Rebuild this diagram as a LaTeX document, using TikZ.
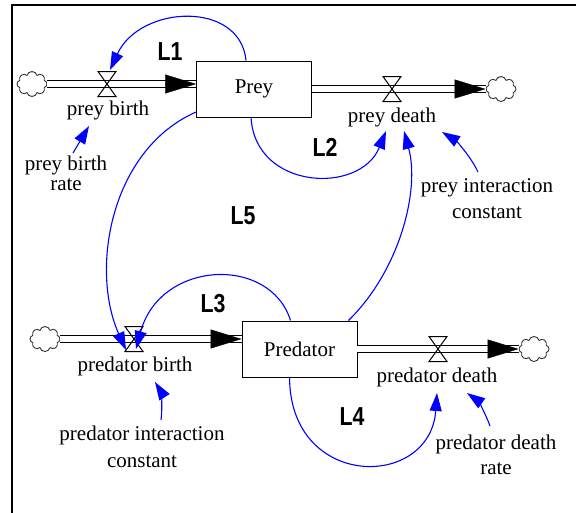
\documentclass[tikz,border=0pt]{standalone}
\usepackage{fontspec}
\setmainfont{Liberation Serif}
\newfontfamily\lfont{Liberation Sans}
\usetikzlibrary{arrows.meta,shapes.symbols,calc}
\begin{document}
\begin{tikzpicture}[x=1pt,y=-1pt,
  stock/.style={draw, line width=0.9pt, minimum width=115pt, minimum height=56pt, inner sep=0pt, font=\fontsize{21}{21}\selectfont},
  lbl/.style={font=\fontsize{21}{25}\selectfont, align=center, inner sep=0pt},
  loopl/.style={font=\lfont\bfseries\fontsize{26}{26}\selectfont, inner sep=0pt},
  pipe/.style={double distance=6pt, line width=1.1pt},
  head/.style={-{Triangle[length=31pt,width=19pt]}, line width=0.4pt},
  valvestyle/.style={line width=1pt},
  link/.style={blue, line width=1.1pt, -{Triangle[length=18pt,width=12pt]}},
  cloudy/.style={cloud, cloud puffs=8, draw=black!80, line width=0.9pt, minimum width=30pt, minimum height=25pt, inner sep=0pt, aspect=1.2},
]
\useasboundingbox (0,0) rectangle (576,512);
\draw[line width=2.3pt] (12,520) -- (12,5) -- (584,5);

% stocks
\node[stock] (prey) at (254,89) {Prey};
\node[stock] (pred) at (299.5,349) {Predator};

% clouds
\node[cloudy] (c1) at (32,84) {};
\node[cloudy] (c2) at (501,89) {};
\node[cloudy] (c3) at (45,339) {};
\node[cloudy] (c4) at (534,349) {};

% flow end points and valves
\coordinate (pbin) at (prey.west |- c1);
\coordinate (pbout) at (prey.east |- c2);
\coordinate (prin) at (pred.west |- c3);
\coordinate (prout) at (pred.east |- c4);
\coordinate (v1) at (107,84);
\coordinate (v2) at (392,89);
\coordinate (v3) at (134,339);
\coordinate (v4) at (438,349);

% pipes
\draw[pipe] (c1.east) -- (pbin);
\draw[head] ($(pbin)+(-31,0)$) -- (pbin);
\draw[pipe] (pbout) -- (c2.west);
\draw[head] ($(c2.west)+(-31,0)$) -- (c2.west);
\draw[pipe] (c3.east) -- (prin);
\draw[head] ($(prin)+(-31,0)$) -- (prin);
\draw[pipe] (prout) -- (c4.west);
\draw[head] ($(c4.west)+(-31,0)$) -- (c4.west);

\foreach \v in {v1,v2,v3,v4}
  \draw[valvestyle] (\v) ++(-9,-12.5) -- ++(18,0) -- ++(-18,25) -- ++(18,0) -- cycle;

% labels
\node[lbl] (pbirth) at (108,110) {prey birth};
\node[lbl] (pdeath) at (392,117) {prey death};
\node[lbl, font=\fontsize{21}{20}\selectfont] (pbr) at (66,173) {prey birth\\rate};
\node[lbl, font=\fontsize{21}{26}\selectfont] (pic) at (487,199) {prey interaction\\constant};
\node[lbl] (prbirth) at (135,366) {predator birth};
\node[lbl, font=\fontsize{21}{27}\selectfont] (pric) at (142,447) {predator interaction\\constant};
\node[lbl] (prdeath) at (437,377) {predator death};
\node[lbl] (prdr) at (496,455) {predator death\\rate};

\node[loopl] (L1) at (170,52) {\scalebox{0.82}[1]{L1}};
\node[loopl] (L2) at (325,147) {\scalebox{0.82}[1]{L2}};
\node[loopl] (L5) at (243,216) {\scalebox{0.82}[1]{L5}};
\node[loopl] (L3) at (213,304) {\scalebox{0.82}[1]{L3}};
\node[loopl] (L4) at (352,417) {\scalebox{0.82}[1]{L4}};

% link end points
\coordinate (l1s) at ([xshift=50pt]prey.north west);
\coordinate (l1t) at (110,70);
\coordinate (l2s) at ([xshift=55pt]prey.south west);
\coordinate (l2t) at (386,131);
\coordinate (l6s) at ([xshift=-9pt]pred.north east);
\coordinate (l6t) at (404,131);
\coordinate (pict) at (478,172);
\coordinate (pitip) at (442,132);
\coordinate (pbrt) at (73,153);
\coordinate (pbrtip) at (89,126);
\coordinate (l5s) at ([yshift=-23pt]prey.west);
\coordinate (l5t) at (126,350);
\coordinate (l3s) at ([xshift=49pt]pred.north west);
\coordinate (l3t) at (136,349);
\coordinate (l4s) at ([xshift=48pt]pred.south west);
\coordinate (l4t) at (437,393);
\coordinate (prict) at (161,420);
\coordinate (prictip) at (155,382);
\coordinate (prdrt) at (490,426);
\coordinate (prdrtip) at (467,393);

% links
\draw[link] (l1s) .. controls (240,0) and (140,5) .. (l1t);
\draw[link] (l2s) .. controls (255,190) and (360,195) .. (l2t);
\draw[link] (l6s) .. controls (400,270) and (420,190) .. (l6t);
\draw[link] (pict) .. controls (470,155) and (455,140) .. (pitip);
\draw[link] (pbrt) -- (pbrtip);
\draw[link] (l5s) .. controls (110,150) and (90,270) .. (l5t);
\draw[link] (l3s) .. controls (270,255) and (160,260) .. (l3t);
\draw[link] (l4s) .. controls (290,490) and (430,490) .. (l4t);
\draw[link] (prict) .. controls (163,405) and (160,390) .. (prictip);
\draw[link] (prdrt) .. controls (485,412) and (477,400) .. (prdrtip);
\end{tikzpicture}
\end{document}
